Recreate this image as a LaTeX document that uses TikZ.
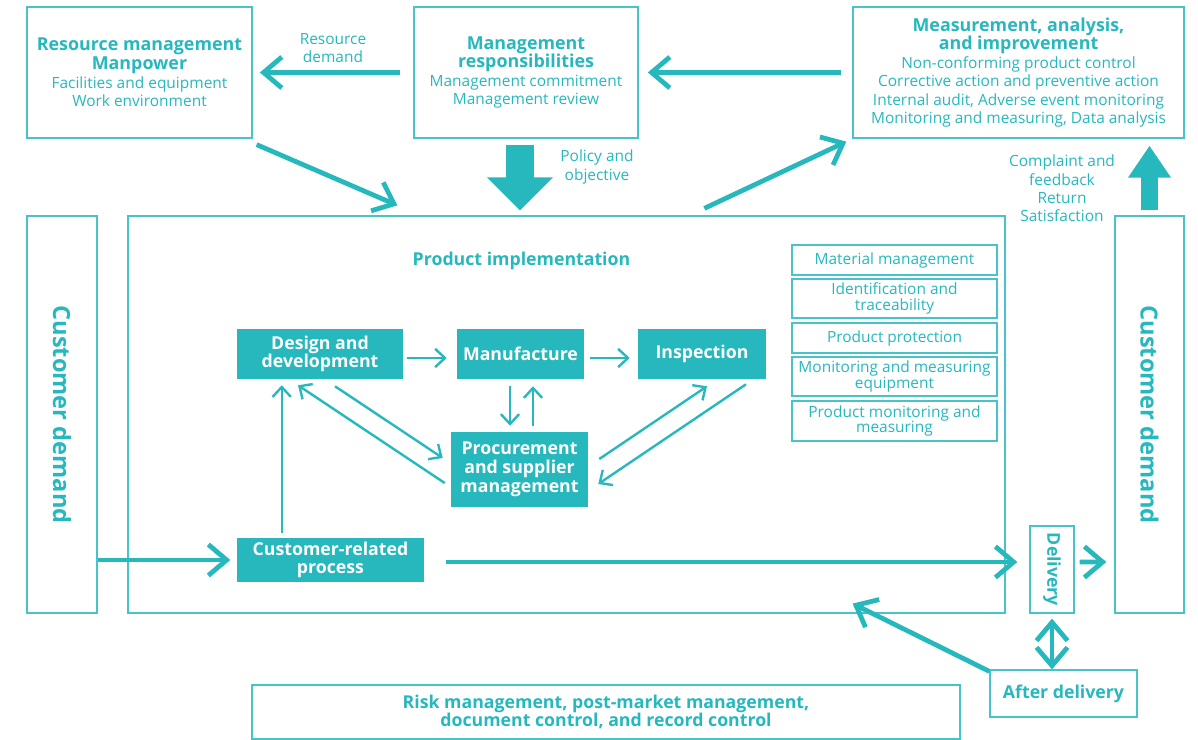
\documentclass[tikz,border=0pt]{standalone}
\usepackage{fontspec}
\setmainfont{Open Sans}
\usetikzlibrary{arrows.meta,calc,positioning}

\definecolor{qteal}{RGB}{38,184,189}
\definecolor{qline}{RGB}{72,196,201}
\newcommand{\boxtitle}[1]{{\bfseries\fontsize{12.7}{13.2}\selectfont #1}}

\begin{document}
\begin{tikzpicture}[x=0.025cm,y=-0.025cm,
  wh/.style 2 args={minimum width=#1*0.025cm,minimum height=#2*0.025cm},
  box/.style={draw=qline,line width=0.9pt,text=qteal,align=center,inner sep=0pt,
    font=\fontsize{11}{13.2}\selectfont},
  lbox/.style={box,wh={205}{#1},font=\fontsize{11}{11}\selectfont},
  fbox/.style={fill=qteal,text=white,align=center,inner sep=0pt,
    font=\bfseries\fontsize{12.6}{13.3}\selectfont},
  lbl/.style={text=qteal,align=center,inner sep=0pt,font=\fontsize{11}{13}\selectfont},
  vtxt/.style={text=qteal,rotate=-90,inner sep=0pt,font=\bfseries\fontsize{16.8}{20}\selectfont},
  bigarr/.style={draw=qteal,line width=3.4pt,-{Straight Barb[length=13pt,width=22pt]}},
  thinarr/.style={draw=qteal,line width=1.7pt,-{Straight Barb[length=7pt,width=13pt]}},
  fatarr/.style={draw=qteal,line width=#1}]

\useasboundingbox (0,0) rectangle (1198,740);

% top row
\node[box,wh={225}{131}] (res)  at (139.5,72.5) {\boxtitle{Resource management}\\\boxtitle{Manpower}\\Facilities and equipment\\Work environment};
\node[box,wh={224}{131}] (mgmt) at (526,72.5) {\boxtitle{Management}\\\boxtitle{responsibilities}\\Management commitment\\Management review};
\node[box,wh={331}{131}] (meas) at (1018.5,72.5) {\boxtitle{Measurement, analysis,}\\\boxtitle{and improvement}\\Non-conforming product control\\Corrective action and preventive action\\Internal audit, Adverse event monitoring\\Monitoring and measuring, Data analysis};

\node[lbl] (resdem) at (333,48) {Resource\\demand};
\node[lbl] (policy) at (597,167) {Policy and\\objective};
\node[lbl] (compl)  at (1062,188.5) {Complaint and\\feedback\\Return\\Satisfaction};

% middle
\node[box,wh={70}{397}]  (cdl)  at (62,414.5) {};
\node[vtxt] at (cdl) {Customer demand};
\node[box,wh={877}{397}] (impl) at (566.5,414.5) {};
\node[text=qteal,font=\bfseries\fontsize{12.6}{13.2}\selectfont] (impltit) at (521.5,261) {Product implementation};
\node[box,wh={69}{397}]  (cdr)  at (1149.5,414.5) {};
\node[vtxt] at (cdr) {Customer demand};

\node[lbox=30] (mat)   at (894.5,260)   {Material management};
\node[lbox=39] (ident) at (894.5,298.5) {Identification and\\traceability};
\node[lbox=30] (prot)  at (894.5,338)   {Product protection};
\node[lbox=39] (equip) at (894.5,376.5) {Monitoring and measuring\\equipment};
\node[lbox=40] (pmon)  at (894.5,421)   {Product monitoring and\\measuring};

\node[fbox,wh={166}{50}] (design) at (320,354)   {Design and\\development};
\node[fbox,wh={127}{50}] (manu)   at (520.5,354) {Manufacture};
\node[fbox,wh={128}{50}] (insp)   at (702,354)   {Inspection};
\node[fbox,wh={137}{75}] (proc)   at (519.5,469.5) {Procurement\\and supplier\\management};
\node[fbox,wh={187}{44}] (crp)    at (330.5,560) {Customer-related\\process};

\node[box,wh={44}{87}] (deliv) at (1052,569.5) {};
\node[text=qteal,rotate=-90,inner sep=0pt,font=\bfseries\fontsize{12.6}{13.2}\selectfont] at (deliv) {Delivery};

% bottom
\node[box,wh={147}{47},font=\bfseries\fontsize{12.6}{13.2}\selectfont] (after) at (1063.5,693.5) {After delivery};
\node[box,wh={708}{54},font=\bfseries\fontsize{12.6}{13.2}\selectfont] (risk) at (606,712) {Risk management, post-market management,\\document control, and record control};

% big arrows
\draw[bigarr,shorten <=0.33cm,shorten >=0.18cm] (mgmt.west) -- (res.east);
\draw[bigarr,shorten <=0.28cm,shorten >=0.23cm] (meas.west) -- (mgmt.east);
\draw[bigarr] ($(res.south east)+(4,6)$) -- ($(impl.north west)+(270,-10)$);
\draw[bigarr] ($(impl.north west)+(577,-7)$) -- ($(meas.south west)+(-6,3)$);
\draw[fatarr=19.9pt,-{Triangle[length=23.5pt,width=45.5pt]}] ($(mgmt.south)+(-6,6)$) -- ($(mgmt.south |- impl.north)+(-6,-5)$);
\draw[fatarr=12pt,-{Triangle[length=22.8pt,width=29pt]}] ($(cdr.north)+(0,-5)$) -- ($(cdr.north |- meas.south)+(0,7)$);

\draw[bigarr,shorten >=0.16cm] (cdl.east |- crp.west) -- (crp.west);
\draw[bigarr] ($(crp.east)+(22,2)$) -- ($(deliv.west)+(-12,-7.5)$);
\draw[bigarr] ($(deliv.east)+(5,-7.5)$) -- ($(cdr.west)+(-8,147.5)$);
\draw[bigarr,{Straight Barb[length=13pt,width=22pt]}-{Straight Barb[length=13pt,width=22pt]}] ($(deliv.south)+(0,5)$) -- (after.north -| deliv.south);
\draw[bigarr] ($(after.north west)+(0,2)$) -- ($(impl.south east)+(-153,-10)$);

% inside product implementation
\draw[thinarr] ($(design.east)+(4,4)$) -- ($(manu.west)+(-10,4)$);
\draw[thinarr] ($(manu.east)+(6,4)$) -- ($(insp.west)+(-8,4)$);
\draw[thinarr] ($(manu.south)+(-10.5,7)$) -- ($(proc.north)+(-9.5,-6)$);
\draw[thinarr] ($(proc.north)+(13.5,-6)$) -- ($(manu.south)+(12.5,7)$);
\draw[thinarr] ($(design.south)+(15,7)$) -- ($(proc.west)+(-8,-11.5)$);
\draw[thinarr] ($(proc.west)+(-6,13.5)$) -- ($(design.south)+(-22,6)$);
\draw[thinarr] ($(proc.east)+(11,-10.5)$) -- ($(insp.south)+(5,7)$);
\draw[thinarr] ($(insp.south)+(44,5)$) -- ($(proc.east)+(10,14.5)$);
\draw[thinarr] ($(crp.north west)+(45,-5)$) -- ($(design.south west)+(45,6)$);

\end{tikzpicture}
\end{document}
